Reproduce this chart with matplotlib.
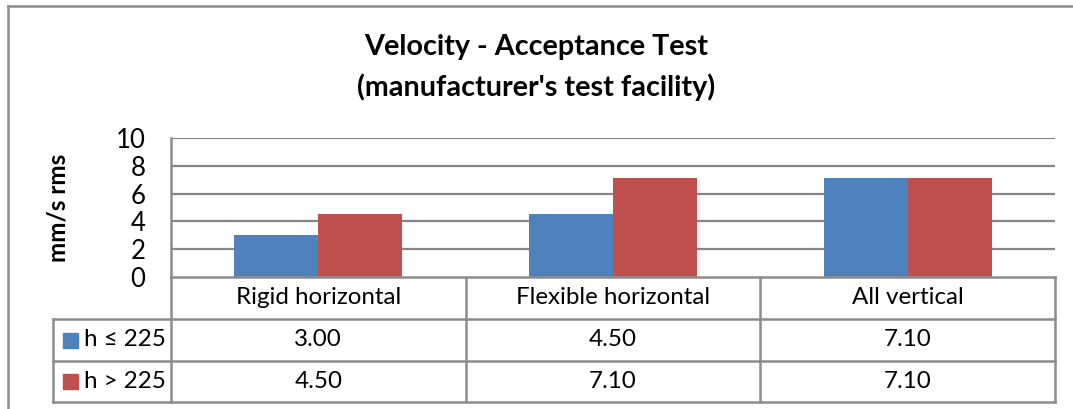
import matplotlib
matplotlib.use("Agg")
import matplotlib.pyplot as plt
from matplotlib.patches import Rectangle
from matplotlib.lines import Line2D
import matplotlib.transforms as mtrans

# ---- data ----
categories = ["Rigid horizontal", "Flexible horizontal", "All vertical"]
series_names = ["h \u2264 225", "h > 225"]
series_low = [3.00, 4.50, 7.10]
series_high = [4.50, 7.10, 7.10]
title_lines = ["Velocity - Acceptance Test", "(manufacturer's test facility)"]
y_label = "mm/s rms"
y_ticks = [0, 2, 4, 6, 8, 10]

colors = ["#4F81BD", "#C0504D"]
grid_col = "#868686"
line_col = "#8C8C8C"
FONT = ["Lato", "DejaVu Sans"]
plt.rcParams["font.family"] = FONT

W, H = 1073, 409
fig = plt.figure(figsize=(W / 100, H / 100), dpi=100)
fig.patch.set_facecolor("white")

def fx(px):
    return px / W

def fy(py):
    return 1 - py / H

# outer frame
fig.add_artist(Line2D([fx(8), fx(8)], [fy(6), fy(409)], color="#8C8C8C", lw=1.8, transform=fig.transFigure))
fig.add_artist(Line2D([fx(8), 1.0], [fy(6), fy(6)], color="#8C8C8C", lw=1.8, transform=fig.transFigure))

ax_l, ax_r, ax_t, ax_b = 171, 1055, 138, 277
ax = fig.add_axes([fx(ax_l), fy(ax_b), fx(ax_r - ax_l), (ax_b - ax_t) / H])
ax.set_xlim(-0.5, len(categories) - 0.5)
ax.set_ylim(0, 10)

bw = 84 / 295
xs = list(range(len(categories)))
ax.bar([x - bw / 2 for x in xs], series_low, width=bw, color=colors[0], zorder=3)
ax.bar([x + bw / 2 for x in xs], series_high, width=bw, color=colors[1], zorder=3)

ax.set_yticks(y_ticks)
ax.set_yticklabels([str(t) for t in y_ticks], fontsize=18.5)
ax.tick_params(axis="y", length=0, pad=18.5)
ax.set_xticks([])
for yv in y_ticks[1:]:
    ax.axhline(yv, color=grid_col, lw=1.6, zorder=1)
for s in ["top", "right", "bottom"]:
    ax.spines[s].set_visible(False)
ax.spines["left"].set_color(line_col)
ax.spines["left"].set_linewidth(1.8)

fig.text(fx(58), fy(208), y_label, rotation=90, ha="center", va="center",
         fontsize=17.5, fontweight="bold")

fig.text(0.5, fy(47), title_lines[0], ha="center", va="center",
         fontsize=20.7, fontweight="bold")
fig.text(0.5, fy(87), title_lines[1], ha="center", va="center",
         fontsize=20.7, fontweight="bold")

# ---- data table ----
tr = mtrans.blended_transform_factory(ax.transData, fig.transFigure)
row_y = [277, 319, 361, 402]
tab_left = 53
lw = 1.8
fig.add_artist(Line2D([fx(ax_l), fx(ax_r)], [fy(row_y[0])] * 2, color=line_col, lw=lw, transform=fig.transFigure))
for yy in row_y[1:]:
    fig.add_artist(Line2D([fx(tab_left), fx(ax_r)], [fy(yy)] * 2, color=line_col, lw=lw, transform=fig.transFigure))
for xb in [i + 0.5 for i in range(len(categories))]:
    fig.add_artist(Line2D([xb, xb], [fy(row_y[0]), fy(row_y[-1])], color=line_col, lw=lw, transform=tr))
fig.add_artist(Line2D([-0.5, -0.5], [fy(row_y[0]), fy(row_y[-1])], color=line_col, lw=lw, transform=tr))
fig.add_artist(Line2D([fx(tab_left)] * 2, [fy(row_y[1]), fy(row_y[-1])], color=line_col, lw=lw, transform=fig.transFigure))

tfs = 17.4
for i, c in enumerate(categories):
    fig.text(i, fy((row_y[0] + row_y[1]) / 2), c, ha="center", va="center", fontsize=tfs, transform=tr)
for r, (vals, name) in enumerate([(series_low, series_names[0]), (series_high, series_names[1])]):
    yc = (row_y[r + 1] + row_y[r + 2]) / 2
    for i, v in enumerate(vals):
        fig.text(i, fy(yc), f"{v:.2f}", ha="center", va="center", fontsize=tfs, transform=tr)
    fig.add_artist(Rectangle((fx(63), fy(yc + 7.5)), fx(15), 15 / H, color=colors[r], transform=fig.transFigure))
    fig.text(fx(84), fy(yc), name, ha="left", va="center", fontsize=tfs)

fig.savefig("out.png", dpi=100, facecolor="white")
